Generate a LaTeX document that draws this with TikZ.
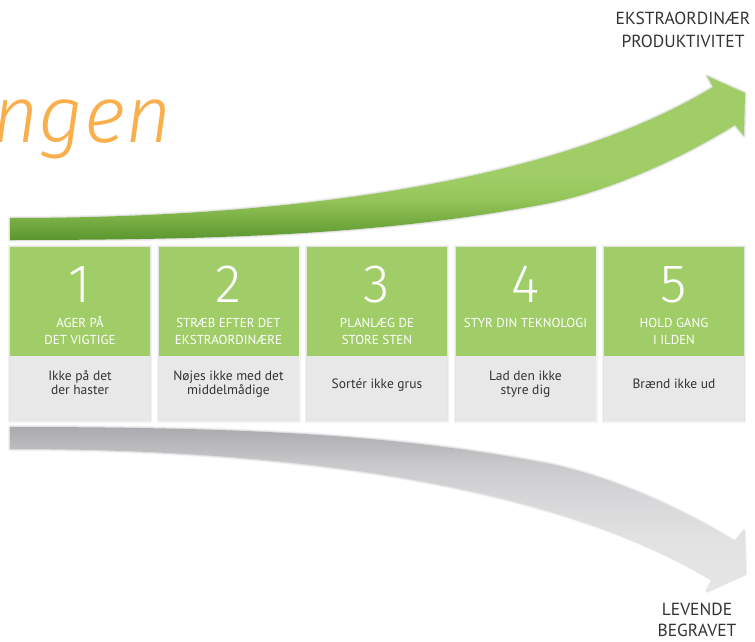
\documentclass[tikz,border=0pt]{standalone}
\usepackage{fontspec}
\setmainfont{PT Sans}
\newfontfamily\numfont{Fira Sans Light}
\newfontfamily\swfont{Fira Sans Light Italic}
\definecolor{boxgreen}{HTML}{A0CD68}
\definecolor{boxgrey}{HTML}{E8E8E8}
\definecolor{txtdark}{HTML}{333333}
\definecolor{orng}{HTML}{F9AF4B}
\definecolor{ga1}{HTML}{5A952F}
\definecolor{ga2}{HTML}{68A238}
\definecolor{ga3}{HTML}{82B54A}
\definecolor{ga4}{HTML}{93C45A}
\definecolor{ga5}{HTML}{9DCB63}
\definecolor{ga6}{HTML}{A0CD66}
\definecolor{gr1}{HTML}{E6E6E6}
\definecolor{gr2}{HTML}{E2E2E3}
\definecolor{gr3}{HTML}{D6D6D8}
\definecolor{gr4}{HTML}{C8C8CA}
\definecolor{gr5}{HTML}{BDBDC0}
\definecolor{gr6}{HTML}{ABABAF}
\pgfdeclareverticalshading{greenarrow}{100bp}{color(0bp)=(ga1); color(25bp)=(ga1); color(28bp)=(ga2); color(33.2bp)=(ga3); color(37.2bp)=(ga4); color(41.8bp)=(ga5); color(46.3bp)=(ga6); color(100bp)=(ga6)}
\pgfdeclareverticalshading{greyarrow}{100bp}{color(0bp)=(gr1); color(25bp)=(gr1); color(40.5bp)=(gr2); color(54.3bp)=(gr3); color(64.3bp)=(gr4); color(68bp)=(gr5); color(75bp)=(gr6); color(100bp)=(gr6)}
\tikzset{
  greenbox/.style={rectangle, fill=boxgreen, draw=none, minimum width=140pt, minimum height=109pt, inner sep=0pt, anchor=north west},
  greybox/.style={rectangle, fill=boxgrey, draw=none, minimum width=140pt, minimum height=64pt, inner sep=0pt, anchor=north west},
  numtext/.style={text=white, font=\numfont\fontsize{54}{54}\selectfont, inner sep=0pt, anchor=base},
  titletext/.style={text=white, font=\fontsize{13}{17}\selectfont, align=center, inner sep=0pt, anchor=base},
  desctext/.style={text=txtdark, font=\fontsize{13.5}{14}\selectfont, align=center, inner sep=0pt, anchor=base},
  sidetext/.style={text=txtdark, font=\fontsize{17.5}{23}\selectfont, align=center, inner sep=0pt, anchor=base},
  halo/.style={preaction={draw=black, draw opacity=0.05, line width=4pt, line join=round},
               preaction={draw=black, draw opacity=0.07, line width=2pt, line join=round}}
}
\begin{document}
\begin{tikzpicture}[x=1pt, y=-1pt]
\useasboundingbox (0,0) rectangle (755,642);
\clip (0,0) rectangle (755,642);
% orange word
\node[text=orng, font=\swfont\fontsize{80}{80}\selectfont, inner sep=0pt, anchor=base east] (word) at (172,142) {ngen};
% green arrow
\shade[shading=greenarrow, halo]
  (10,218) .. controls (300,218) and (560,180) .. (713,87)
  -- (707,76) -- (745,93) -- (744,136) -- (735,125)
  .. controls (690,153) and (620,188) .. (550,203)
  .. controls (400,232) and (250,240) .. (10,240) -- cycle;
% grey arrow
\shade[shading=greyarrow, halo]
  (10,449) .. controls (300,449) and (560,487) .. (713,580)
  -- (707,591) -- (745,574) -- (744,531) -- (735,542)
  .. controls (690,514) and (620,479) .. (550,464)
  .. controls (400,435) and (250,427) .. (10,427) -- cycle;
% boxes
\foreach \i/\t/\ty/\d/\dy in {
  1/{AGER PÅ\\DET VIGTIGE}/344/{Ikke på det\\der haster}/394,
  2/{STRÆB EFTER DET\\EKSTRAORDINÆRE}/344/{Nøjes ikke med det\\middelmådige}/394,
  3/{PLANLÆG DE\\STORE STEN}/344/{Sortér ikke grus}/388,
  4/{STYR DIN TEKNOLOGI}/327/{Lad den ikke\\styre dig}/394,
  5/{HOLD GANG\\I ILDEN}/344/{Brænd ikke ud}/388}{
  \pgfmathsetmacro{\xx}{10+148.5*(\i-1)}
  \fill[black, opacity=0.05] (\xx-2,245) rectangle (\xx+142,422.5);
  \fill[black, opacity=0.06] (\xx-0.8,246.2) rectangle (\xx+140.8,421.3);
  \node[greenbox] (g\i) at (\xx,247) {};
  \node[greybox] (b\i) at (\xx,356) {};
  \node[numtext] (n\i) at (\xx+70,302) {\i};
  \node[titletext] (t\i) at (\xx+70,\ty) {\t};
  \node[desctext] (d\i) at (\xx+70,\dy) {\d};
}
% side labels
\node[sidetext] (top) at (683,48) {EKSTRAORDINÆR\\PRODUKTIVITET};
\node[sidetext, font=\fontsize{17.5}{21}\selectfont] (bot) at (697,636) {LEVENDE\\BEGRAVET};
\end{tikzpicture}
\end{document}
